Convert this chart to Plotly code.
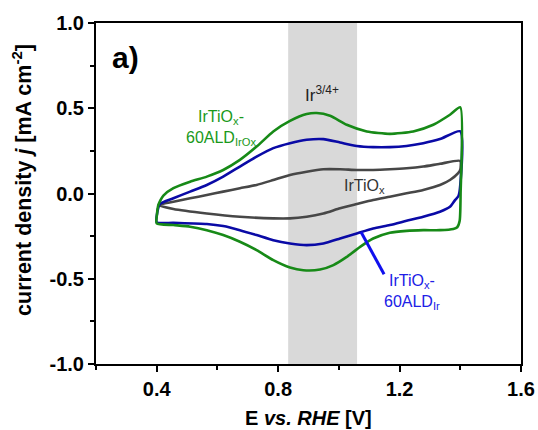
import plotly.graph_objects as go

# ---- data ----
green_E = [0.400, 0.401, 0.405, 0.412, 0.422, 0.455, 0.510, 0.565, 0.619, 0.674, 0.729, 0.784, 0.839, 0.894, 0.927,
           0.971, 1.026, 1.092, 1.168, 1.245, 1.311, 1.366, 1.400,
           1.401, 1.398, 1.390, 1.377, 1.333, 1.278, 1.223, 1.168, 1.113, 1.070, 1.026, 0.982, 0.938, 0.883,
           0.839, 0.784, 0.729, 0.674, 0.619, 0.565, 0.510, 0.455, 0.400]
green_j = [-0.175, -0.120, -0.070, -0.040, -0.012, 0.031, 0.069, 0.099, 0.138, 0.197, 0.275, 0.364, 0.426, 0.466, 0.472,
           0.456, 0.403, 0.364, 0.350, 0.364, 0.403, 0.462, 0.505,
           0.000, -0.160, -0.198, -0.208, -0.215, -0.215, -0.219, -0.230, -0.264, -0.313, -0.372, -0.420, -0.446, -0.450,
           -0.434, -0.391, -0.332, -0.283, -0.244, -0.215, -0.195, -0.185, -0.175]

blue_E = [0.400, 0.402, 0.410, 0.455, 0.510, 0.565, 0.619, 0.674, 0.729, 0.784, 0.839, 0.894, 0.949, 1.004, 1.059,
          1.113, 1.168, 1.223, 1.278, 1.333, 1.400,
          1.400, 1.394, 1.382, 1.366, 1.333, 1.278, 1.223, 1.168, 1.113, 1.059, 1.004, 0.949, 0.894, 0.839,
          0.784, 0.729, 0.674, 0.619, 0.565, 0.455, 0.400]
blue_j = [-0.169, -0.110, -0.062, -0.028, 0.011, 0.050, 0.099, 0.158, 0.216, 0.266, 0.295, 0.315, 0.319, 0.299, 0.279,
          0.272, 0.272, 0.279, 0.295, 0.319, 0.365,
          0.050, -0.015, -0.040, -0.078, -0.107, -0.136, -0.160, -0.185, -0.205, -0.234, -0.264, -0.293, -0.303, -0.293,
          -0.274, -0.244, -0.215, -0.191, -0.179, -0.172, -0.169]

gray_E = [0.405, 0.455, 0.510, 0.565, 0.619, 0.674, 0.729, 0.784, 0.839, 0.894, 0.949, 1.004, 1.059, 1.113,
          1.168, 1.223, 1.278, 1.333, 1.400,
          1.400, 1.393, 1.366, 1.333, 1.278, 1.223, 1.168, 1.113, 1.059, 1.004, 0.949, 0.894, 0.839, 0.784,
          0.674, 0.565, 0.455, 0.405]
gray_j = [-0.068, -0.048, -0.028, -0.009, 0.011, 0.031, 0.050, 0.079, 0.109, 0.128, 0.142, 0.142, 0.138, 0.138,
          0.142, 0.148, 0.158, 0.174, 0.191,
          0.140, 0.119, 0.079, 0.050, 0.021, 0.001, -0.019, -0.038, -0.062, -0.087, -0.117, -0.136, -0.146, -0.146,
          -0.136, -0.117, -0.091, -0.068]

band_E = [0.833, 1.060]
pointer_E = [1.073, 1.149]
pointer_j = [-0.226, -0.474]

x_ticks = [0.4, 0.8, 1.2, 1.6]
x_ticklabels = ["0.4", "0.8", "1.2", "1.6"]
x_minor = [0.2, 0.6, 1.0, 1.4]
y_ticks = [-1.0, -0.5, 0.0, 0.5, 1.0]
y_ticklabels = ["-1.0", "-0.5", "0.0", "0.5", "1.0"]
y_minor = [-0.75, -0.25, 0.25, 0.75]

GREEN = "#178a17"
BLUE = "#0a0aa6"
GRAY = "#474747"
FONT = "Liberation Sans, Arial, sans-serif"

fig = go.Figure()

fig.add_vrect(x0=band_E[0], x1=band_E[1], fillcolor="#d9d9d9", line_width=0, layer="below")

fig.add_trace(go.Scatter(x=gray_E, y=gray_j, mode="lines",
                         line=dict(color=GRAY, width=2.6, shape="spline", smoothing=0.6), showlegend=False))
fig.add_trace(go.Scatter(x=blue_E, y=blue_j, mode="lines",
                         line=dict(color=BLUE, width=2.6, shape="spline", smoothing=0.6), showlegend=False))
fig.add_trace(go.Scatter(x=green_E, y=green_j, mode="lines",
                         line=dict(color=GREEN, width=2.6, shape="spline", smoothing=0.6), showlegend=False))
fig.add_trace(go.Scatter(x=pointer_E, y=pointer_j, mode="lines",
                         line=dict(color="#1010ee", width=3), showlegend=False))

fig.add_annotation(x=0.07, y=0.899, xref="paper", yref="paper", xanchor="center", yanchor="middle",
                   text="<b>a)</b>", showarrow=False,
                   font=dict(family=FONT, size=30, color="black"))
fig.add_annotation(x=0.944, y=0.585, text="Ir<sup>3/4+</sup>", showarrow=False,
                   font=dict(family=FONT, size=17, color="#222222"))
fig.add_annotation(x=0.612, y=0.385, text="IrTiO<sub>x</sub>-<br>60ALD<sub>IrOx</sub>", showarrow=False,
                   font=dict(family=FONT, size=16, color="#1a991a"))
fig.add_annotation(x=1.083, y=0.044, text="IrTiO<sub>x</sub>", showarrow=False,
                   font=dict(family=FONT, size=16, color="#333333"))
fig.add_annotation(x=1.241, y=-0.58, text="IrTiO<sub>x</sub>-<br>60ALD<sub>Ir</sub>", showarrow=False,
                   font=dict(family=FONT, size=16, color="#2020e6"))

fig.add_annotation(x=-0.174, y=0.54, xref="paper", yref="paper", xanchor="center", yanchor="middle",
                   textangle=-90,
                   text="<b>current density <i>j</i> [mA cm<sup>-2</sup>]</b>", showarrow=False,
                   font=dict(family=FONT, size=21.5, color="black"))
fig.add_annotation(x=0.5, y=-0.158, xref="paper", yref="paper", xanchor="center", yanchor="middle",
                   text="<b>E <i>vs. RHE</i> [V]</b>", showarrow=False,
                   font=dict(family=FONT, size=20, color="black"))

# plot frame at x 96-521, y 23-364 of the 538x430 page
fig.update_layout(
    width=538, height=430,
    margin=dict(l=96, r=17, t=23, b=66),
    paper_bgcolor="white", plot_bgcolor="white",
    font=dict(family=FONT, color="black"),
)
fig.update_xaxes(range=[0.2, 1.6], tickvals=x_ticks, ticktext=x_ticklabels, automargin=False,
                 showline=True, linecolor="black", linewidth=2, mirror=True,
                 ticks="outside", ticklen=6, tickwidth=2, tickcolor="black",
                 minor=dict(tickvals=x_minor, ticks="outside", ticklen=4, tickwidth=2, tickcolor="black"),
                 showgrid=False, zeroline=False,
                 tickfont=dict(family=FONT, size=20, color="black", weight="bold"))
fig.update_yaxes(range=[-1.0, 1.0], tickvals=y_ticks, ticktext=y_ticklabels, automargin=False,
                 showline=True, linecolor="black", linewidth=2, mirror=True,
                 ticks="outside", ticklen=6, tickwidth=2, tickcolor="black",
                 minor=dict(tickvals=y_minor, ticks="outside", ticklen=4, tickwidth=2, tickcolor="black"),
                 showgrid=False, zeroline=False,
                 tickfont=dict(family=FONT, size=20, color="black", weight="bold"))

fig.write_html("out.html", config={"displayModeBar": False},
               post_script="document.body.style.margin='0px';document.body.style.overflow='hidden';")
